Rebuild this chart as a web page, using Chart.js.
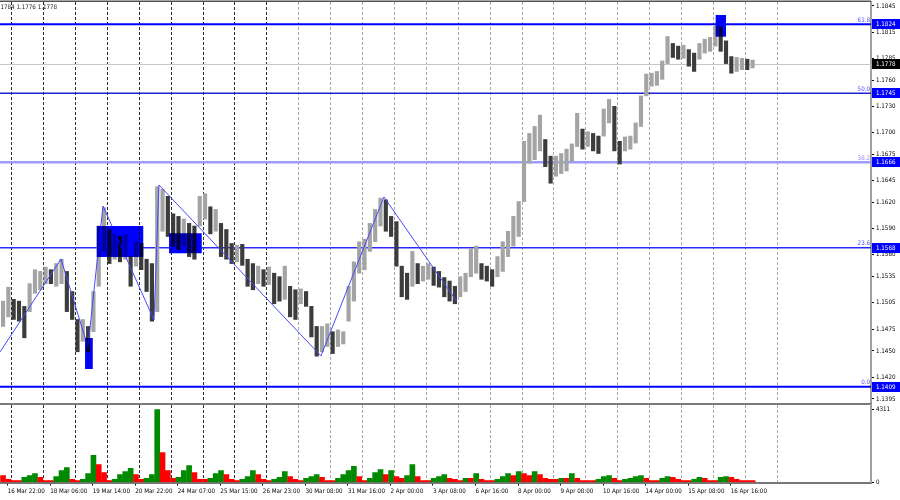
<!DOCTYPE html>
<html><head><meta charset="utf-8">
<script src="https://cdn.jsdelivr.net/npm/chart.js@4.4.1/dist/chart.umd.min.js"></script>
<style>
html,body{margin:0;padding:0;background:#fff;}
#wrap{position:relative;width:900px;height:500px;overflow:hidden;background:#fff;}
#main{position:absolute;left:0;top:0;}
#vol{position:absolute;left:0;top:403px;}
</style></head><body>
<div id="wrap"><canvas id="main" width="900" height="403"></canvas><canvas id="vol" width="900" height="97"></canvas></div>
<script>
// ---- DATA (4-hour bins of an H1 EURUSD chart) ----
const barHighs = [
1.1507,1.1523,1.1509,1.1507,1.1501,1.1527,1.1543,1.1541,1.1546,1.1543,
1.1550,1.1555,1.1541,1.1518,1.1486,1.1486,1.1478,1.1518,1.1593,1.1614,
1.1589,1.1584,1.1581,1.1583,1.1558,1.1575,1.1573,1.1555,1.1550,1.1638,
1.1635,1.1627,1.1607,1.1604,1.1601,1.1596,1.1593,1.1627,1.1630,1.1615,
1.1612,1.1596,1.1589,1.1573,1.1571,1.1572,1.1555,1.1550,1.1547,1.1543,
1.1546,1.1539,1.1535,1.1547,1.1524,1.1520,1.1521,1.1518,1.1501,1.1478,
1.1478,1.1481,1.1472,1.1474,1.1472,1.1524,1.1552,1.1575,1.1578,1.1596,
1.1612,1.1625,1.1623,1.1604,1.1598,1.1547,1.1539,1.1564,1.1550,1.1547,
1.1550,1.1546,1.1541,1.1534,1.1530,1.1524,1.1535,1.1539,1.1567,1.1570,
1.1550,1.1547,1.1543,1.1558,1.1575,1.1587,1.1604,1.1621,1.1690,1.1699,
1.1707,1.1720,1.1692,1.1673,1.1673,1.1676,1.1681,1.1687,1.1722,1.1704,
1.1701,1.1699,1.1696,1.1727,1.1738,1.1730,1.1690,1.1695,1.1696,1.1711,
1.1742,1.1767,1.1768,1.1770,1.1782,1.1810,1.1802,1.1799,1.1800,1.1795,
1.1791,1.1802,1.1807,1.1809,1.1822,1.1821,1.1805,1.1787,1.1786,1.1785,
1.1784,1.1783];
const barLows = [
1.1478,1.1489,1.1486,1.1484,1.1465,1.1495,1.1516,1.1520,1.1527,1.1527,
1.1524,1.1527,1.1495,1.1486,1.1449,1.1461,1.1449,1.1472,1.1524,1.1564,
1.1550,1.1555,1.1552,1.1555,1.1524,1.1547,1.1543,1.1518,1.1484,1.1495,
1.1587,1.1581,1.1570,1.1566,1.1570,1.1558,1.1555,1.1593,1.1601,1.1584,
1.1587,1.1558,1.1555,1.1550,1.1552,1.1548,1.1524,1.1520,1.1527,1.1524,
1.1526,1.1504,1.1507,1.1509,1.1489,1.1486,1.1504,1.1501,1.1466,1.1444,
1.1449,1.1455,1.1447,1.1455,1.1458,1.1484,1.1507,1.1539,1.1543,1.1564,
1.1575,1.1593,1.1587,1.1581,1.1547,1.1512,1.1509,1.1524,1.1527,1.1530,
1.1532,1.1525,1.1523,1.1512,1.1507,1.1504,1.1512,1.1518,1.1535,1.1539,
1.1532,1.1530,1.1524,1.1535,1.1541,1.1558,1.1570,1.1581,1.1621,1.1665,
1.1669,1.1679,1.1661,1.1642,1.1650,1.1653,1.1656,1.1667,1.1684,1.1681,
1.1684,1.1679,1.1676,1.1696,1.1711,1.1679,1.1664,1.1679,1.1681,1.1688,
1.1707,1.1742,1.1753,1.1754,1.1761,1.1779,1.1786,1.1784,1.1785,1.1776,
1.1770,1.1784,1.1791,1.1793,1.1799,1.1793,1.1779,1.1768,1.1770,1.1772,
1.1772,1.1774];
const volumes = [
410,180,120,120,300,410,530,300,120,120,
350,710,880,180,120,180,530,1600,1060,590,
120,180,470,650,830,470,180,240,470,4311,
1770,710,240,300,710,1000,590,180,180,240,
530,710,470,180,120,180,350,710,470,180,
120,180,300,650,350,180,120,240,350,470,
300,120,120,240,470,710,950,350,120,240,
590,770,470,710,350,240,410,1060,350,120,
120,240,350,470,240,180,120,240,240,530,
180,120,120,180,350,530,410,650,530,410,
650,470,240,180,180,240,240,530,240,120,
120,120,180,350,410,240,120,180,240,350,
410,240,120,120,240,350,300,180,120,120,
180,300,240,120,120,300,350,300,180,120,
120,120];
const binHours = 4;                 // each bin = 4 hourly bars
const priceTicks = [1.1845,1.1815,1.1785,1.1760,1.1730,1.1700,1.1675,1.1645,1.1620,1.1590,1.1560,1.1535,1.1505,1.1475,1.1450,1.1420,1.1395];
const volTicks = [0, 4311];
const fibLevels = [1.1824,1.1745,1.1666,1.1568,1.1409];
const fibNames = ['61.8','50.0','38.2','23.6','0.0'];
const currentPrice = 1.1778;
const headerText = '1.1784 1.1776 1.1778';
const zigzagHours  = [-0.8, 45.1, 65.4, 76.7, 115.1, 118.8, 240.7, 288.1, 343.1];
const zigzagPrices = [1.14488,1.15552,1.14545,1.16159,1.14854,1.16400,1.14443,1.16263,1.15062];
const rectStartHours = [63.2, 72.0, 126.4, 537.7];
const rectEndHours   = [69.0, 107.0, 151.0, 545.5];
const rectLowPrices  = [1.14293, 1.15575, 1.15618, 1.18098];
const rectHighPrices = [1.14648, 1.15930, 1.15847, 1.18346];
const gridHours = [8,32,56,80,104,128,152,176,200,224,248,272,296,320,344,368,392,416,440,464,488,512,536,560,584];
const labelHours = [5,37,69,101,133,165,197,229,261,293,325,357,389,421,453,485,517,549];
const timeLabels = ['16 Mar 22:00','18 Mar 06:00','19 Mar 14:00','20 Mar 22:00','24 Mar 07:00','25 Mar 15:00','26 Mar 23:00','30 Mar 08:00','31 Mar 16:00','2 Apr 00:00','3 Apr 08:00','6 Apr 16:00','8 Apr 00:00','9 Apr 08:00','10 Apr 16:00','14 Apr 00:00','15 Apr 08:00','16 Apr 16:00'];

// ---- STYLE ----
const FONT = "'Liberation Sans Narrow','DejaVu Sans Condensed','Liberation Sans',sans-serif";
const FS = 6.2;
const xMin = -0.8, xMax = 654.6;
const fibColors = ['#0000ff','#2020d0','#9c9cff','#2a2aff','#0000ff'];
const fibWidths = [2,1.5,2.5,1.5,2];
const fibTextColors = ['#4c4cff','#4c4cff','#8c8cff','#4c4cff','#4c4cff'];

const binTime = i => i*binHours + (binHours-1)/2;
const priceBars = barHighs.map((h,i)=>({x: binTime(i), y:[barLows[i], h]}));
const mids = barHighs.map((h,i)=>(h+barLows[i])/2);
const barColors = mids.map((m,i)=> (i===0 || m>=mids[i-1]) ? '#a4a4a4' : '#3c3c3c');
const volColors = volumes.map((v,i)=> (i>0 && v>volumes[i-1]) ? '#008a00' : '#ff0000');
const gridSet = new Map(gridHours.map((h,i)=>[h,i]));
const labelMap = new Map(labelHours.map((h,i)=>[h,timeLabels[i]]));
const gridColor = idx => idx < 9 ? '#2a2a2a' : '#a8a8a8';
const tickVal = c => (c && c.tick) ? c.tick.value : null;

const mainOverlay = {
  id:'mainOverlay',
  beforeDatasetsDraw(chart){
    const {ctx, chartArea:a, scales:{y}} = chart;
    ctx.save();
    const cy = Math.round(y.getPixelForValue(currentPrice))+0.5;
    ctx.strokeStyle='#c6c6c6'; ctx.lineWidth=1;
    ctx.beginPath(); ctx.moveTo(a.left,cy); ctx.lineTo(a.right,cy); ctx.stroke();
    fibLevels.forEach((lv,i)=>{
      const py = y.getPixelForValue(lv);
      ctx.strokeStyle=fibColors[i]; ctx.lineWidth=fibWidths[i];
      ctx.beginPath(); ctx.moveTo(a.left,py); ctx.lineTo(a.right,py); ctx.stroke();
    });
    ctx.restore();
  },
  afterDatasetsDraw(chart){
    const {ctx, chartArea:a, scales:{x,y}} = chart;
    ctx.save();
    ctx.beginPath(); ctx.rect(a.left,a.top,a.right-a.left,a.bottom-a.top); ctx.clip();
    ctx.globalCompositeOperation='darken';
    ctx.fillStyle='#0000ff';
    rectStartHours.forEach((s,i)=>{
      const x1=x.getPixelForValue(s), x2=x.getPixelForValue(rectEndHours[i]);
      const y1=y.getPixelForValue(rectHighPrices[i]), y2=y.getPixelForValue(rectLowPrices[i]);
      ctx.fillRect(x1,y1,x2-x1,y2-y1);
    });
    ctx.restore();
  },
  afterDraw(chart){
    const {ctx, chartArea:a, scales:{y}} = chart;
    ctx.save();
    ctx.fillStyle='#505050'; ctx.fillRect(0,0.5,a.right,1.5);
    ctx.font = FS+'px '+FONT;
    ctx.textAlign='right'; ctx.textBaseline='bottom';
    fibLevels.forEach((lv,i)=>{
      const py=y.getPixelForValue(lv);
      ctx.fillStyle=fibTextColors[i];
      ctx.fillText(fibNames[i], a.right-1, py-1);
    });
    ctx.textAlign='left'; ctx.textBaseline='middle';
    const tag=(v,bg)=>{
      const py=y.getPixelForValue(v);
      ctx.fillStyle=bg; ctx.fillRect(a.right+1,Math.round(py)-5,900-a.right-1,10);
      ctx.fillStyle='#ffffff'; ctx.fillText(v.toFixed(4), a.right+5, Math.round(py)+0.5);
    };
    fibLevels.forEach(v=>tag(v,'#0000ff'));
    tag(currentPrice,'#000000');
    ctx.fillStyle='#202020';
    const w = ctx.measureText('1.').width;
    ctx.fillText(headerText, -w+0.5, 7);
    ctx.restore();
  }
};

new Chart(document.getElementById('main'), {
  data:{datasets:[
    {type:'line', data: zigzagHours.map((h,i)=>({x:h,y:zigzagPrices[i]})), borderColor:'#4848ff', borderWidth:1, pointRadius:0, tension:0, order:0},
    {type:'bar', data: priceBars, backgroundColor: barColors, borderWidth:0, barThickness:3.5, grouped:false, order:1}
  ]},
  options:{
    responsive:false, animation:false, events:[],
    layout:{padding:{top:2,bottom:1,left:0,right:0}},
    plugins:{legend:{display:false}, tooltip:{enabled:false}},
    scales:{
      x:{type:'linear', min:xMin, max:xMax, offset:false,
         afterBuildTicks:s=>{s.ticks=gridHours.map(v=>({value:v}));},
         afterFit:s=>{s.height=0; s.paddingLeft=0; s.paddingRight=0;},
         ticks:{display:false},
         grid:{color:c=>gridColor(c.index), drawTicks:false, lineWidth:1, offset:false},
         border:{display:false, dash:[3,2]}},
      y:{type:'linear', position:'right', min:1.13915, max:1.18495,
         afterBuildTicks:s=>{s.ticks=priceTicks.map(v=>({value:v}));},
         afterFit:s=>{s.width=29; s.paddingTop=0; s.paddingBottom=0;},
         ticks:{font:{family:FONT,size:FS}, color:'#000', padding:2, callback:v=>Number(v).toFixed(4)},
         grid:{drawOnChartArea:false, tickLength:3, tickColor:'#000'},
         border:{display:true, color:'#a0a0a0', width:2}}
    }
  },
  plugins:[mainOverlay]
});

const volOverlay = {
  id:'volOverlay',
  beforeDraw(chart){
    const {ctx, chartArea:a} = chart;
    ctx.save(); ctx.fillStyle='#7a7a7a'; ctx.fillRect(0,0,a.right+1,2); ctx.restore();
  }
};

const xTicksAll = gridHours.concat(labelHours).sort((p,q)=>p-q);
new Chart(document.getElementById('vol'), {
  type:'bar',
  data:{datasets:[{data: volumes.map((v,i)=>({x:binTime(i), y:v})), backgroundColor: volColors, borderWidth:0, barThickness:5}]},
  options:{
    responsive:false, animation:false, events:[],
    layout:{padding:{top:2,bottom:0,left:0,right:0}},
    plugins:{legend:{display:false}, tooltip:{enabled:false}},
    scales:{
      x:{type:'linear', min:xMin, max:xMax, offset:false,
         afterBuildTicks:s=>{s.ticks=xTicksAll.map(v=>({value:v}));},
         afterFit:s=>{s.height=17.5; s.paddingLeft=0; s.paddingRight=0;},
         ticks:{autoSkip:false, maxRotation:0, minRotation:0, align:'start', padding:2,
                font:{family:FONT,size:FS}, color:'#000', callback:v=>labelMap.get(v)||''},
         grid:{offset:false,
               color:c=>{ const v=tickVal(c); return gridSet.has(v) ? gridColor(gridSet.get(v)) : 'rgba(0,0,0,0)'; },
               tickColor:c=>{ const v=tickVal(c); return labelMap.has(v) ? '#000' : 'rgba(0,0,0,0)'; },
               tickLength:3, lineWidth:1},
         border:{display:true, color:'#777777', width:2, dash:[3,2]}},
      y:{type:'linear', position:'right', min:0, max:4577,
         afterBuildTicks:s=>{s.ticks=volTicks.map(v=>({value:v}));},
         afterFit:s=>{s.width=29; s.paddingTop=0; s.paddingBottom=0;},
         ticks:{font:{family:FONT,size:FS}, color:'#000', padding:2, callback:v=>String(v)},
         grid:{drawOnChartArea:false, tickLength:3, tickColor:'#000'},
         border:{display:true, color:'#a0a0a0', width:2}}
    }
  },
  plugins:[volOverlay]
});
</script>
</body></html>
